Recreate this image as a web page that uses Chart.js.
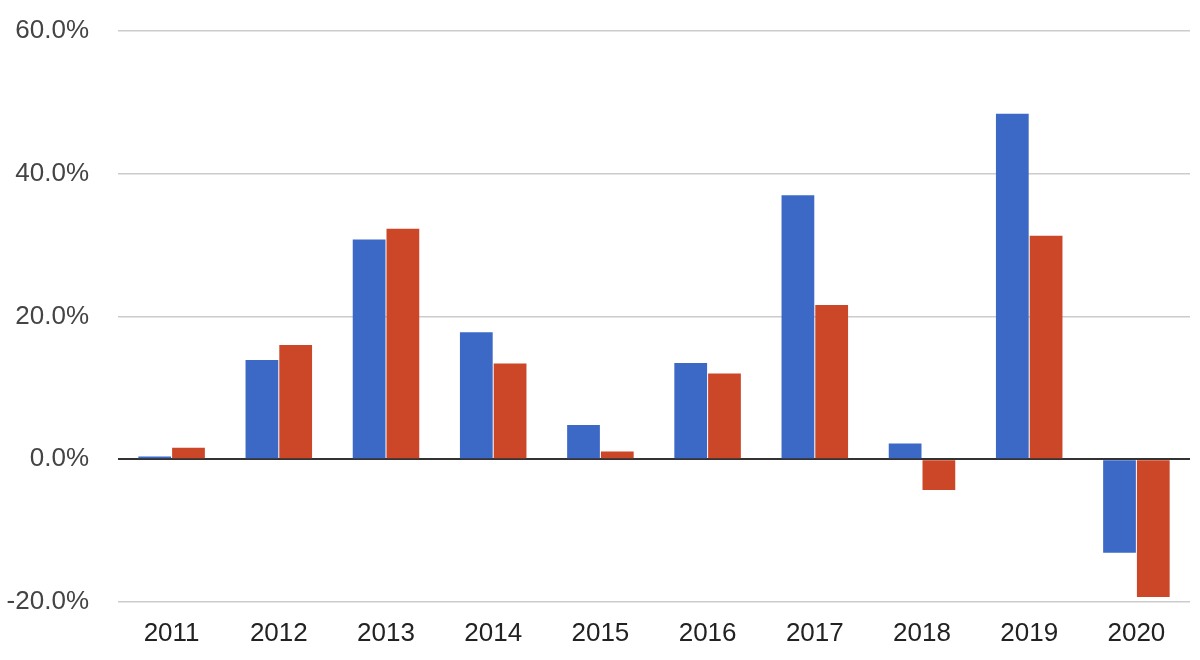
<!DOCTYPE html>
<html>
<head>
<meta charset="utf-8">
<script src="https://cdn.jsdelivr.net/npm/chart.js@4"></script>
<style>
    html, body { margin: 0; padding: 0; background: #fff; }
    #wrap { width: 1200px; height: 660px; }
</style>
</head>
<body>
<div id="wrap"><canvas id="chart"></canvas></div>
<script>
// Годы и доходности двух серий (в процентах)
var years = ['2011', '2012', '2013', '2014', '2015', '2016', '2017', '2018', '2019', '2020'];
var seriesBlue = [0.4, 13.9, 30.8, 17.8, 4.8, 13.5, 37.0, 2.2, 48.4, -13.1];
var seriesRed = [1.6, 16.0, 32.3, 13.4, 1.1, 12.0, 21.6, -4.3, 31.3, -19.3];
var yTicks = [-20, 0, 20, 40, 60];

var blueColor = '#3d69c6';
var redColor = '#cc4628';

var ctx = document.getElementById('chart').getContext('2d');
new Chart(ctx, {
    type: 'bar',
    data: {
        labels: years,
        datasets: [
            {
                label: 'A',
                data: seriesBlue,
                backgroundColor: blueColor,
                borderWidth: 0,
                barPercentage: 0.97,
                categoryPercentage: 0.63
            },
            {
                label: 'B',
                data: seriesRed,
                backgroundColor: redColor,
                borderWidth: 0,
                barPercentage: 0.97,
                categoryPercentage: 0.63
            }
        ]
    },
    options: {
        responsive: true,
        maintainAspectRatio: false,
        animation: false,
        layout: { padding: { top: 31, right: 10, left: 0, bottom: 0 } },
        plugins: {
            legend: { display: false },
            tooltip: { enabled: false }
        },
        scales: {
            x: {
                grid: { display: false, drawTicks: false },
                border: { display: false },
                ticks: {
                    color: '#222',
                    font: { family: 'Liberation Sans, Arial', size: 26 },
                    padding: 16
                },
                afterFit: function(scale) { scale.height = 58; }
            },
            y: {
                min: -20,
                max: 60,
                afterBuildTicks: function(scale) {
                    scale.ticks = yTicks.map(function(v) { return { value: v }; });
                },
                grid: {
                    drawTicks: true,
                    tickLength: 29,
                    tickColor: 'rgba(0,0,0,0)',
                    color: function(c) { return c.tick && c.tick.value === 0 ? '#333' : '#ccc'; },
                    lineWidth: function(c) { return c.tick && c.tick.value === 0 ? 2 : 1.5; }
                },
                border: { display: false },
                ticks: {
                    color: '#444',
                    font: { family: 'Liberation Sans, Arial', size: 26 },
                    padding: 0,
                    callback: function(v) { return v.toFixed(1) + '%'; }
                },
                afterFit: function(scale) { scale.width = 118; }
            }
        }
    }
});
</script>
</body>
</html>
